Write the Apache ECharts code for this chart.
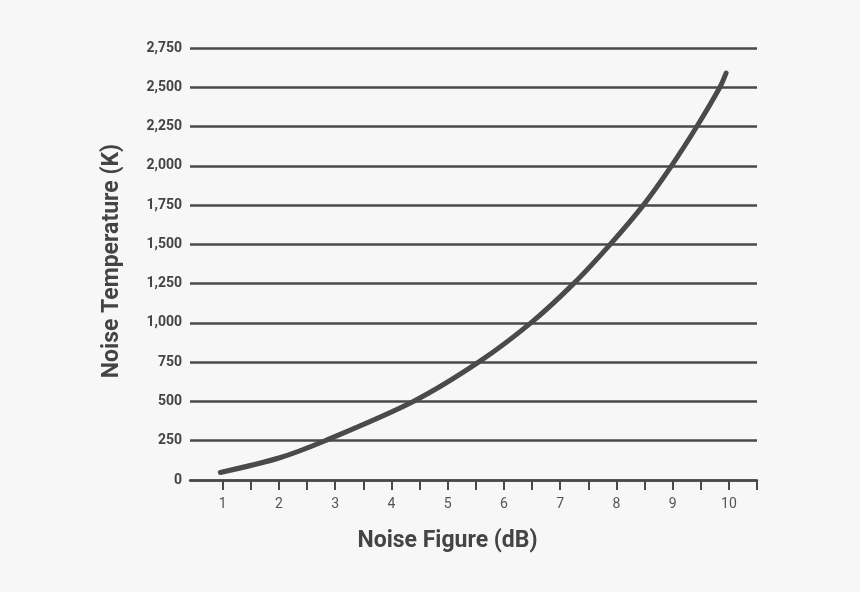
<!DOCTYPE html>
<html>
<head>
<meta charset="utf-8">
<script src="https://cdn.jsdelivr.net/npm/echarts@6/dist/echarts.min.js"></script>
<style>
  html, body { margin: 0; padding: 0; background: #f7f7f7; }
  #chart { width: 860px; height: 592px; }
</style>
</head>
<body>
<div id="chart"></div>
<script>
// values (noise figure in dB, noise temperature in K)
const noiseFigure = [0.96, 2.0, 2.82, 4.39, 5.55, 6.48, 7.24, 7.89, 8.48, 8.98, 9.43, 9.84, 9.95];
const noiseTemp   = [48, 140, 250, 500, 750, 1000, 1250, 1500, 1750, 2000, 2250, 2500, 2590];

const xTickValues = [1, 1.5, 2, 2.5, 3, 3.5, 4, 4.5, 5, 5.5, 6, 6.5, 7, 7.5, 8, 8.5, 9, 9.5, 10, 10.5];
const xLabelValues = [1, 2, 3, 4, 5, 6, 7, 8, 9, 10];

const INK = '#4a4a4a';

const chart = echarts.init(document.getElementById('chart'), null, { renderer: 'canvas' });

chart.setOption({
  backgroundColor: '#f7f7f7',
  animation: false,
  grid: { left: 190, right: 103, top: 48, bottom: 112 },
  xAxis: {
    type: 'value', min: 0.42, max: 10.5,
    name: 'Noise Figure (dB)', nameLocation: 'middle', nameGap: 50,
    nameTextStyle: { color: '#444', fontFamily: 'Roboto', fontWeight: 'bold', fontSize: 23, padding: [0, 52, 0, 0] },
    axisLine: { show: true, lineStyle: { color: INK, width: 2.5 } },
    axisTick: { show: true, customValues: xTickValues, length: 10, lineStyle: { color: INK, width: 2 } },
    axisLabel: { customValues: xLabelValues, margin: 17, color: '#555', fontFamily: 'Roboto', fontSize: 14 },
    splitLine: { show: false }
  },
  yAxis: {
    type: 'value', min: 0, max: 2750, interval: 250,
    name: 'Noise Temperature (K)', nameLocation: 'middle', nameGap: 66,
    nameTextStyle: { color: '#444', fontFamily: 'Roboto', fontWeight: 'bold', fontSize: 23, padding: [0, 0, 0, 6] },
    axisLine: { show: false },
    axisTick: { show: false },
    axisLabel: {
      margin: 8, color: '#444', fontFamily: 'Roboto', fontWeight: 'bold', fontSize: 14,
      formatter: v => v.toLocaleString('en-US')
    },
    splitLine: { lineStyle: { color: INK, width: 2.5 } }
  },
  series: [{
    type: 'line',
    data: noiseFigure.map((x, i) => [x, noiseTemp[i]]),
    smooth: 0.3, symbol: 'none',
    lineStyle: { color: INK, width: 5, cap: 'round' }
  }]
});
</script>
</body>
</html>
